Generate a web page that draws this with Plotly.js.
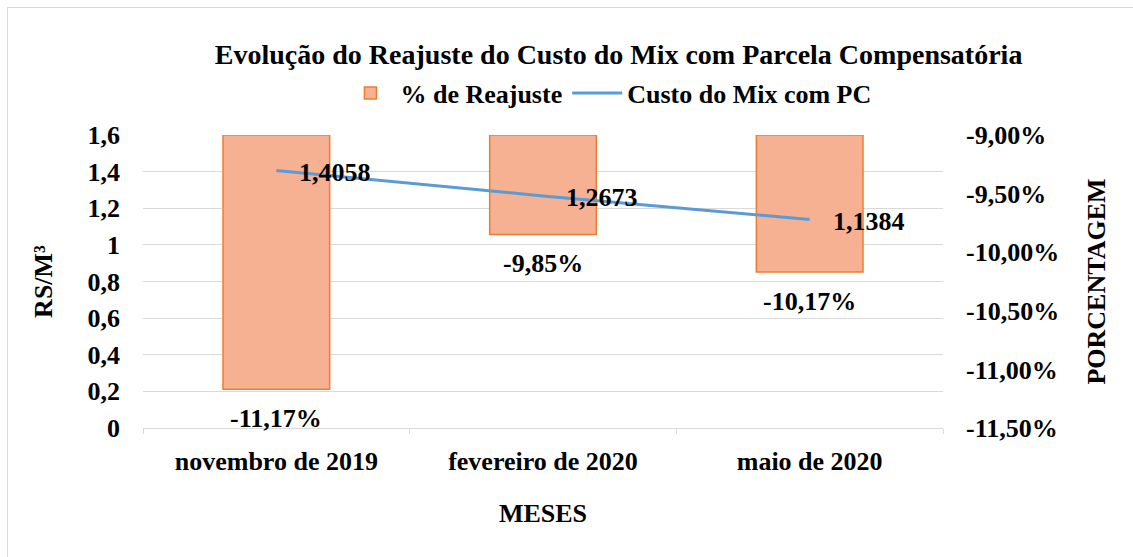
<!DOCTYPE html>
<html>
<head>
<meta charset="utf-8">
<script src="https://cdn.plot.ly/plotly-3.0.1.min.js"></script>
<style>
  html, body { margin: 0; padding: 0; background: #fff; }
  #wrap { position: relative; width: 1133px; height: 557px; overflow: hidden; }
  #chart { width: 1133px; height: 557px; }
  #frame { position: absolute; left: 7px; top: 7px; width: 1140px; height: 560px;
           border: 1px solid #d9d9d9; pointer-events: none; }
</style>
</head>
<body>
<div id="wrap">
  <div id="chart"></div>
  <div id="frame"></div>
</div>
<script>
const categories = ["novembro de 2019", "fevereiro de 2020", "maio de 2020"];
const reajustePct = [-11.17, -9.85, -10.17];
const custoMix = [1.4058, 1.2673, 1.1384];
const barBase = -9;
const leftTicks = [0, 0.2, 0.4, 0.6, 0.8, 1, 1.2, 1.4, 1.6];
const rightTicks = [-11.5, -11, -10.5, -10, -9.5, -9];

const font = "'Liberation Serif', 'Times New Roman', serif";
const fmt = (v, d) => v.toFixed(d).replace('.', ',');
const bold = (size) => ({ family: font, size: size, color: '#000', weight: 'bold' });

// bars on the primary (right-side percentage) axis, line on the overlaying left axis so it draws on top
const barTrace = {
  type: 'bar',
  name: '% de Reajuste',
  x: categories,
  base: barBase,
  y: reajustePct.map(v => v - barBase),
  yaxis: 'y',
  marker: { color: '#f6b092', line: { color: '#ed7d31', width: 1.5 } },
  hoverinfo: 'skip'
};

const lineTrace = {
  type: 'scatter',
  mode: 'lines',
  name: 'Custo do Mix com PC',
  x: categories,
  y: custoMix,
  yaxis: 'y2',
  line: { color: '#5b9bd5', width: 3 },
  hoverinfo: 'skip'
};

const annotations = [];
categories.forEach((c, i) => {
  annotations.push({
    x: c, y: custoMix[i], xref: 'x', yref: 'y2',
    text: fmt(custoMix[i], 4), showarrow: false,
    xanchor: 'left', yanchor: 'middle', xshift: 21, yshift: -2,
    font: bold(26)
  });
  annotations.push({
    x: c, y: reajustePct[i], xref: 'x', yref: 'y',
    text: fmt(reajustePct[i], 2) + '%', showarrow: false,
    xanchor: 'center', yanchor: 'middle', yshift: -29,
    font: bold(26)
  });
});

const layout = {
  width: 1133, height: 557,
  margin: { l: 143, r: 190, t: 135, b: 129 },
  paper_bgcolor: '#fff', plot_bgcolor: '#fff',
  separators: ',.',
  font: bold(26),
  title: {
    text: 'Evolução do Reajuste do Custo do Mix com Parcela Compensatória',
    font: bold(28),
    x: 0.546, xref: 'container', xanchor: 'center',
    y: 0.903, yref: 'container', yanchor: 'middle'
  },
  showlegend: true,
  legend: {
    orientation: 'h', x: 0.537, xref: 'container', xanchor: 'center',
    y: 0.833, yref: 'container', yanchor: 'middle',
    font: bold(26),
    traceorder: 'normal', itemwidth: 50
  },
  bargap: 0.6,
  xaxis: {
    type: 'category',
    tickfont: bold(26),
    showline: true, linecolor: '#d9d9d9', linewidth: 1,
    ticks: 'outside', tickson: 'boundaries', ticklen: 5, tickcolor: '#d9d9d9',
    ticklabelstandoff: 10,
    showgrid: false,
    title: { text: 'MESES', standoff: 28, font: bold(26) }
  },
  yaxis: {
    side: 'right',
    range: [-11.5, -9], tickvals: rightTicks,
    ticktext: rightTicks.map(v => fmt(v, 2) + '%'),
    showgrid: false, zeroline: false, showline: false, ticks: '',
    ticklabelstandoff: 22,
    tickfont: bold(26),
    title: { text: 'PORCENTAGEM', standoff: 28, font: bold(26) }
  },
  yaxis2: {
    overlaying: 'y', side: 'left',
    range: [0, 1.6], tickvals: leftTicks,
    showgrid: true, gridcolor: '#d9d9d9', gridwidth: 1,
    zeroline: false, showline: false, ticks: '',
    ticklabelstandoff: 22,
    tickfont: bold(26),
    title: { text: 'RS/M³', standoff: 27, font: bold(26) }
  },
  annotations: annotations
};

Plotly.newPlot('chart', [barTrace, lineTrace], layout, { displayModeBar: false, staticPlot: true });
</script>
</body>
</html>
